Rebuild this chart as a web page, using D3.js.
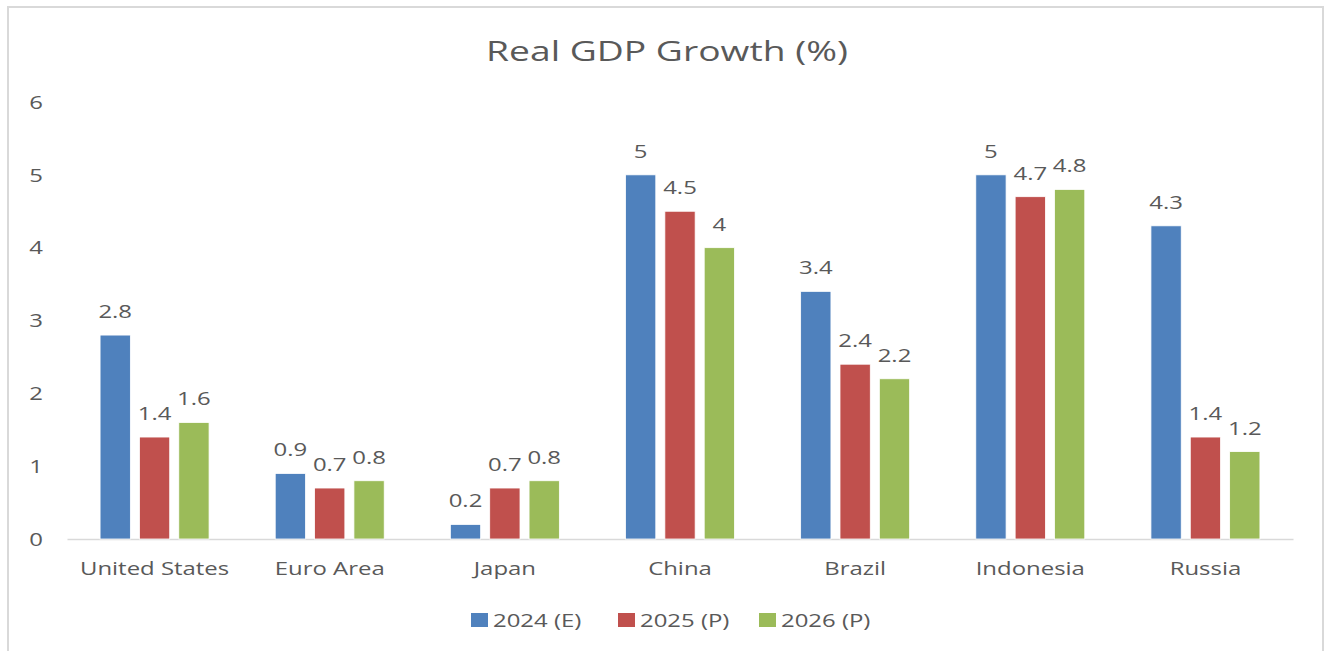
<!DOCTYPE html>
<html><head><meta charset="utf-8">
<script src="https://cdn.jsdelivr.net/npm/d3@7"></script>
<style>body{margin:0;background:#fff;}svg{display:block;}text{font-family:"Open Sans","Noto Sans",sans-serif;fill:#595959;}</style>
</head><body>
<script>
const categories = ["United States","Euro Area","Japan","China","Brazil","Indonesia","Russia"];
const seriesNames = ["2024 (E)","2025 (P)","2026 (P)"];
const s2024 = [2.8,0.9,0.2,5,3.4,5,4.3];
const s2025 = [1.4,0.7,0.7,4.5,2.4,4.7,1.4];
const s2026 = [1.6,0.8,0.8,4,2.2,4.8,1.2];
const yTicks = [0,1,2,3,4,5,6];
const colors = ["#4f81bd","#c0504d","#9bbb59"];
const series = [s2024,s2025,s2026];

const SX = 1.33;
const W=1329,H=651;
const svg=d3.select("body").append("svg").attr("width",W).attr("height",H);
svg.append("rect").attr("x",8).attr("y",7).attr("width",1315).attr("height",660)
  .attr("fill","#fff").attr("stroke","#d9d9d9").attr("stroke-width",2);

// stretched text helper
function stext(parent, x, y, str, size, anchor){
  return parent.append("text")
    .attr("transform",`translate(${x},${y}) scale(${SX},1)`)
    .attr("text-anchor",anchor||"middle").style("font-size",size+"px").text(str);
}

const x=d3.scaleBand().domain(categories).range([67,1293]);
const y=d3.scaleLinear().domain([0,6]).range([539,102]);
const xs=d3.scaleBand().domain([0,1,2]).range([0,109]).paddingInner(0.23);

stext(svg,667,61,"Real GDP Growth (%)",28);

const ya=svg.append("g").attr("transform","translate(43,0)")
  .call(d3.axisLeft(y).tickValues(yTicks).tickSize(0).tickPadding(0).tickFormat(d3.format("d")));
ya.select(".domain").remove();
ya.selectAll("text").style("font-size","18px").attr("fill","#595959").attr("x",0).attr("dy","0.35em")
  .attr("transform",`scale(${SX},1)`);

const xa=svg.append("g").attr("transform","translate(0,539)")
  .call(d3.axisBottom(x).tickSize(0).tickPadding(23));
xa.select(".domain").attr("stroke","#d9d9d9").attr("stroke-width",1.5);
xa.selectAll("text").style("font-size","18px").attr("fill","#595959").attr("transform",`scale(${SX},1)`);

series.forEach((vals,si)=>{
  const g=svg.append("g");
  categories.forEach((c,i)=>{
    const bx=x(c)+x.bandwidth()/2-54.5+xs(si);
    g.append("rect").attr("x",bx).attr("y",y(vals[i])).attr("width",xs.bandwidth())
      .attr("height",y(0)-y(vals[i])).attr("fill",colors[si]).attr("stroke","#fff").attr("stroke-width",0.8);
    stext(g,bx+xs.bandwidth()/2,y(vals[i])-17,vals[i],18);
  });
});

const leg=svg.append("g");
const legX=[471,618,759];
seriesNames.forEach((n,i)=>{
  leg.append("rect").attr("x",legX[i]).attr("y",613).attr("width",17).attr("height",14).attr("fill",colors[i]);
  stext(leg,legX[i]+22,627,n,18,"start");
});
</script>
</body></html>
